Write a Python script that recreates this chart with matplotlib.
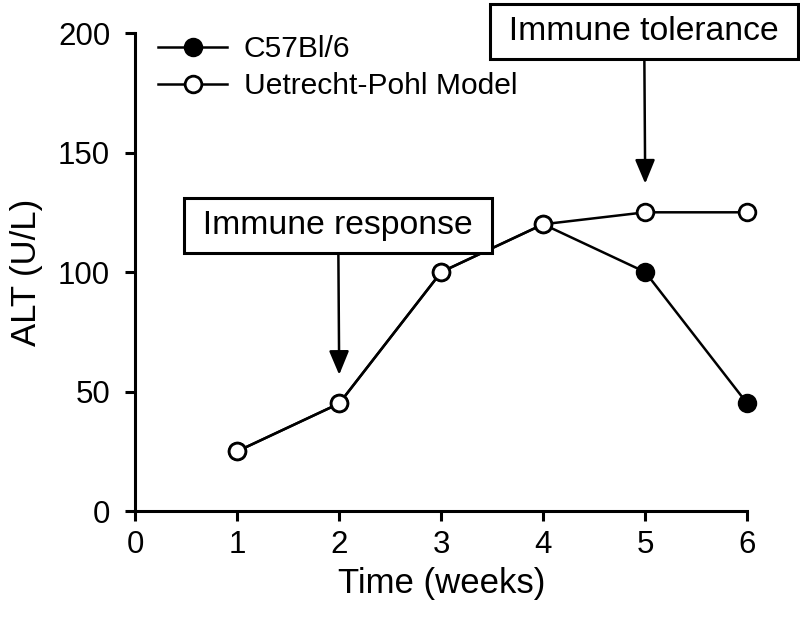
import matplotlib.pyplot as plt

plt.rcParams['font.family'] = ['Liberation Sans', 'DejaVu Sans']

# data
weeks = [1, 2, 3, 4, 5, 6]
c57_alt = [25, 45, 100, 120, 100, 45]
up_alt = [25, 45, 100, 120, 125, 125]
x_ticks = [0, 1, 2, 3, 4, 5, 6]
y_ticks = [0, 50, 100, 150, 200]


def plot_data():
    fig = plt.figure(figsize=(8, 6.36), dpi=100)
    ax = fig.add_axes([0.169, 0.1965, 0.765, 0.7515])

    # filled series first, open series on top
    ax.plot(weeks, c57_alt, color='black', lw=1.8, marker='o', ms=12,
            mfc='black', mec='black', mew=2, label='C57Bl/6', clip_on=False)
    ax.plot(weeks, up_alt, color='black', lw=1.8, marker='o', ms=12,
            mfc='white', mec='black', mew=2, label='Uetrecht-Pohl Model',
            clip_on=False, zorder=3)

    ax.set_xlim(0, 6)
    ax.set_ylim(0, 200)
    ax.set_xticks(x_ticks)
    ax.set_yticks(y_ticks)
    ax.spines['top'].set_visible(False)
    ax.spines['right'].set_visible(False)
    for s in ['left', 'bottom']:
        ax.spines[s].set_linewidth(2.2)
    ax.tick_params(width=2.2, length=7, labelsize=22.5, direction='out')
    ax.tick_params(axis='x', pad=7)
    ax.tick_params(axis='y', pad=11)

    ax.set_xlabel('Time (weeks)', fontsize=25, labelpad=5)
    ax.set_ylabel('ALT (U/L)', fontsize=25, labelpad=11)

    leg = ax.legend(loc='upper left', bbox_to_anchor=(0.0376, 0.995),
                    frameon=False, fontsize=21.6, handlelength=2.3,
                    handletextpad=0.55, labelspacing=0.3, borderpad=0,
                    borderaxespad=0)
    for h in leg.legend_handles:
        h.set_markersize(12)

    box = dict(boxstyle='square,pad=0.36', fc='white', ec='black', lw=2.2)
    arrow = dict(arrowstyle='-|>,head_length=0.6,head_width=0.25',
                 color='black', lw=1.8, shrinkA=0, shrinkB=0)
    ax.annotate('\u2009Immune response\u2009', xy=(2, 57), xytext=(1.99, 119.6),
                fontsize=24.3, ha='center', va='center', bbox=box,
                arrowprops=arrow)
    ax.annotate('\u2009Immune tolerance\u2009', xy=(5, 137), xytext=(4.99, 200.6),
                fontsize=24.3, ha='center', va='center', bbox=box,
                arrowprops=arrow, annotation_clip=False)

    fig.savefig('out.png', dpi=100)


def main():
    plot_data()


if __name__ == "__main__":
    main()
